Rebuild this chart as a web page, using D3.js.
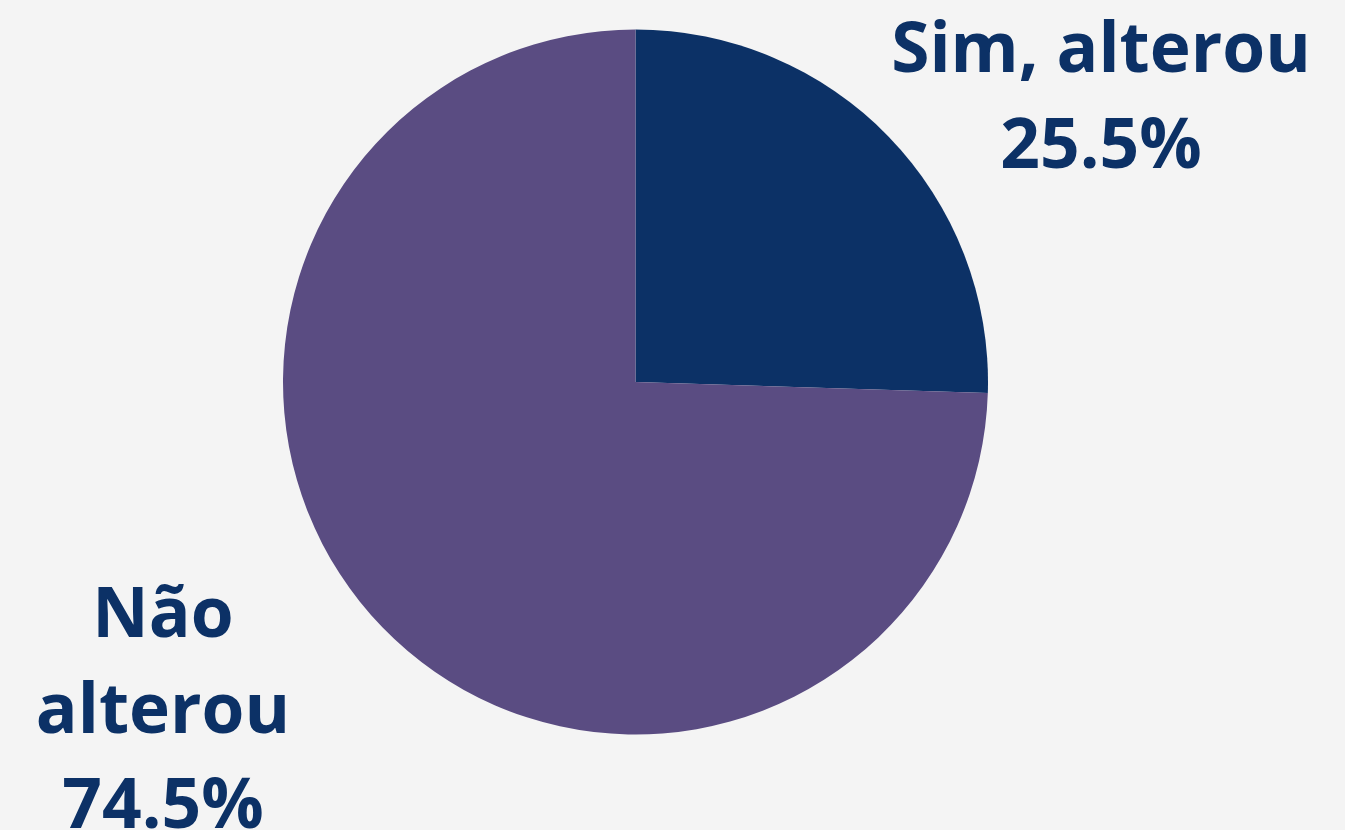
<!DOCTYPE html>
<html>
<head>
<meta charset="utf-8">
<script src="https://cdn.jsdelivr.net/npm/d3@7"></script>
<style>
  html, body { margin: 0; padding: 0; background: #f4f4f4; }
  svg { display: block; }
</style>
</head>
<body>
<svg id="chart"></svg>
<script>
const categories = ["Sim, alterou", "Não alterou"]
const values = [25.5, 74.5]
const colors = ["#0c3166", "#5a4c82"]
// label lines per category (wrapped as in the original)
const labelLines = [["Sim, alterou"], ["Não", "alterou"]]

const width = 1345
const height = 830
const cx = 635.5
const cy = 382
const radius = 352.5

const svg = d3.select("#chart")
  .attr("width", width)
  .attr("height", height)

svg.append("rect")
  .attr("width", width)
  .attr("height", height)
  .attr("fill", "#f4f4f4")

const data = categories.map((name, i) => ({ name, value: values[i], color: colors[i], lines: labelLines[i] }))

const pie = d3.pie().sort(null).value(d => d.value)
const arc = d3.arc().innerRadius(0).outerRadius(radius)

const g = svg.append("g").attr("transform", `translate(${cx},${cy})`)

g.selectAll("path")
  .data(pie(data))
  .enter().append("path")
  .attr("d", arc)
  .attr("fill", d => d.data.color)

// label anchors (centre x, first baseline)
const labelPos = [[1101, 72], [163, 637]]
const lineHeight = 95.5

const labels = svg.selectAll(".label")
  .data(data)
  .enter().append("text")
  .attr("class", "label")
  .attr("text-anchor", "middle")
  .attr("font-family", "'Open Sans', sans-serif")
  .attr("font-weight", 700)
  .attr("font-size", 69.4)
  .attr("fill", "#0c3166")

labels.each(function (d, i) {
  const t = d3.select(this)
  const lines = [...d.lines, d3.format(".1f")(d.value) + "%"]
  lines.forEach((line, j) => {
    t.append("tspan")
      .attr("x", labelPos[i][0])
      .attr("y", labelPos[i][1] + j * lineHeight)
      .text(line)
  })
})
</script>
</body>
</html>
